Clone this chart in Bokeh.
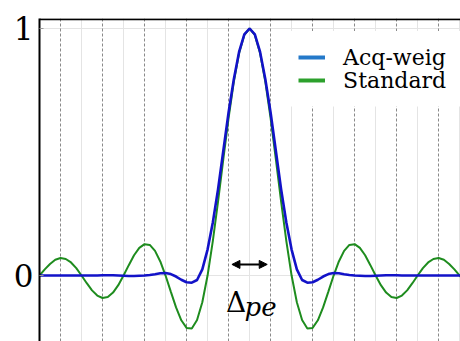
from bokeh.plotting import figure
from bokeh.models import (Range1d, LinearAxis, FixedTicker, Grid, Legend, LegendItem,
                          Arrow, NormalHead, BoxAnnotation, Span)
from bokeh.core.properties import value
from bokeh.embed import file_html
from bokeh.resources import INLINE

# ---- data ----
u_pos = [0.0, 0.125, 0.25, 0.375, 0.5, 0.625, 0.75, 0.875, 1.0, 1.125, 1.25, 1.375, 1.5,
         1.625, 1.75, 1.875, 2.0, 2.125, 2.25, 2.375, 2.5, 2.625, 2.75, 2.875, 3.0,
         3.125, 3.25, 3.375, 3.5, 3.625, 3.75, 3.875, 4.0, 4.125, 4.25, 4.375, 4.5,
         4.625, 4.75, 4.875, 5.0, 5.125]
standard_pos = [1.000, 0.974, 0.900, 0.784, 0.637, 0.471, 0.300, 0.139, 0.000, -0.108, -0.180,
                -0.214, -0.212, -0.181, -0.129, -0.065, 0.000, 0.057, 0.100, 0.124, 0.127,
                0.112, 0.082, 0.042, 0.000, -0.039, -0.069, -0.087, -0.091, -0.081, -0.060,
                -0.031, 0.000, 0.030, 0.053, 0.067, 0.071, 0.064, 0.047, 0.025, 0.000, -0.024]
acq_pos = [1.000, 0.976, 0.905, 0.795, 0.660, 0.505, 0.350, 0.215, 0.105, 0.025, -0.018,
           -0.029, -0.027, -0.017, -0.004, 0.006, 0.010, 0.009, 0.005, 0.002, 0.000,
           -0.001, -0.002, -0.002, -0.001, 0.000, 0.001, 0.001, 0.001, 0.000, 0.000,
           0.000, 0.000, 0.000, 0.000, 0.000, 0.000, 0.000, 0.000, 0.000, 0.000, 0.000]

u = [-x for x in reversed(u_pos[1:])] + u_pos
standard = list(reversed(standard_pos[1:])) + standard_pos
acq = list(reversed(acq_pos[1:])) + acq_pos

y_ticks = [0, 1]
grid_major = [-5, -4, -3, -2, -1, 0, 1, 2, 3, 4, 5]
grid_dashed = [-4.5, -3.5, -2.5, -1.5, -0.5, 0.5, 1.5, 2.5, 3.5, 4.5]
legend_labels = ["Acq-weig", "Standard"]

SERIF = "DejaVu Serif"

p = figure(width=460, height=341, output_backend="svg", toolbar_location=None,
           x_range=Range1d(-5.0, 5.02), y_range=Range1d(-0.267, 1.0405),
           x_axis_location=None, y_axis_location=None,
           min_border_left=39, min_border_right=0, min_border_top=18, min_border_bottom=0)
p.outline_line_color = None
p.background_fill_color = "white"

# grids
p.xgrid.ticker = FixedTicker(ticks=grid_major)
p.xgrid.grid_line_color = "#e4e4e4"
p.ygrid.ticker = FixedTicker(ticks=y_ticks)
p.ygrid.grid_line_color = "#e4e4e4"
dg = Grid(dimension=0, ticker=FixedTicker(ticks=grid_dashed), grid_line_color="#8a8a8a",
          grid_line_dash="3 2", grid_line_width=1)
p.add_layout(dg)

# legend background patch (drawn over grids, under glyphs)
cover = BoxAnnotation(left=0.96, right=6, bottom=0.684, top=0.99,
                      fill_color="white", fill_alpha=1, line_color=None, level="underlay")
p.add_layout(cover)

# axes
ly = LinearAxis(ticker=FixedTicker(ticks=y_ticks))
ly.axis_line_color = "black"
ly.axis_line_width = 2
ly.major_tick_in = 4
ly.major_tick_out = 0
ly.major_tick_line_color = "#999999"
ly.minor_tick_line_color = None
ly.major_label_text_font = SERIF
ly.major_label_text_font_size = "31px"
ly.major_label_text_color = "black"
ly.major_label_standoff = 6
p.add_layout(ly, "left")

# top frame border
p.add_layout(Span(location=1.037, dimension="width", line_color="black", line_width=2))

# curves
p.line(u, standard, line_color="#1e8c1e", line_width=2)
p.line(u, acq, line_color="#1212c8", line_width=2.6)

# legend swatches (one legend per entry for tight row spacing)
r1 = p.line([20, 21], [20, 20], line_color="#2479c9", line_width=4)
r2 = p.line([20, 21], [20, 20], line_color="#2ca02c", line_width=4)
for rend, loc in [(r1, (259, 274)), (r2, (259, 251))]:
    leg = Legend(items=[LegendItem(label=" ", renderers=[rend])],
                 location=loc, padding=0, margin=0, spacing=0,
                 glyph_width=27, glyph_height=20, label_standoff=18,
                 label_text_font_size="26px", label_text_alpha=0,
                 background_fill_alpha=0, border_line_color=None)
    p.add_layout(leg)
# legend labels in serif
p.text(x=[2.226, 2.226], y=[0.8846, 0.789], text=legend_labels,
       text_font=value(SERIF), text_font_size="22px",
       text_align="left", text_baseline="alphabetic", text_color="black")

# Delta_pe annotation
p.add_layout(Arrow(start=NormalHead(size=8, fill_color="black", line_color="black"),
                   end=NormalHead(size=8, fill_color="black", line_color="black"),
                   x_start=-0.42, y_start=0.045, x_end=0.42, y_end=0.045,
                   line_width=2, line_color="black"))
p.text(x=[-0.32], y=[-0.109], text=["Δ"], text_font=value("DejaVu Serif"),
       text_font_size="28px", text_align="center", text_baseline="alphabetic",
       text_color="black")
p.text(x=[-0.12], y=[-0.128], text=["pe"], text_font=value("DejaVu Serif"),
       text_font_style="italic", text_font_size="26px", text_align="left",
       text_baseline="alphabetic", text_color="black")

open("out.html", "w").write(file_html(p, INLINE))
